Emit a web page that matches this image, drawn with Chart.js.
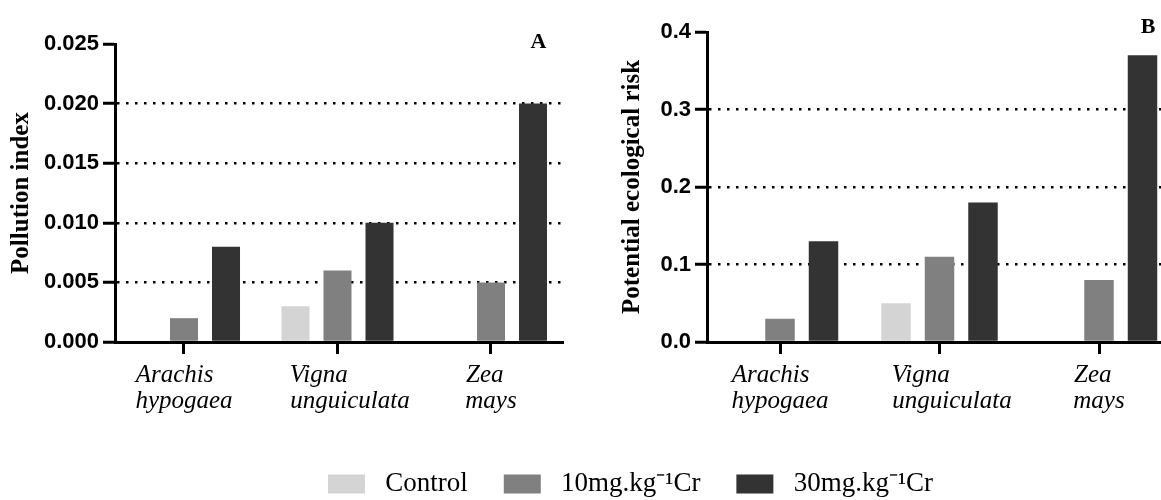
<!DOCTYPE html>
<html>
<head>
<meta charset="utf-8">
<script src="https://cdn.jsdelivr.net/npm/chart.js@4.4.0/dist/chart.umd.min.js"></script>
<style>
  html, body { margin: 0; padding: 0; background: #fff; overflow: hidden; }
  #wrap { position: relative; width: 1161px; height: 500px; overflow: hidden; }
  #chartA { position: absolute; left: 0; top: 0; }
  #chartB { position: absolute; left: 580px; top: 0; }
</style>
</head>
<body>
<div id="wrap">
  <canvas id="chartA" width="1261" height="500"></canvas>
  <canvas id="chartB" width="620" height="500"></canvas>
</div>
<script>
// data
const categories = [['Arachis', 'hypogaea'], ['Vigna', 'unguiculata'], ['Zea', 'mays']];
const seriesNames = ['Control', '10mg.kg\u207B\u00B9Cr', '30mg.kg\u207B\u00B9Cr'];
const seriesColors = ['#d4d4d4', '#808080', '#333333'];

const pollutionControl = [0, 0.003, 0];
const pollution10 = [0.002, 0.006, 0.005];
const pollution30 = [0.008, 0.010, 0.020];
const pollutionTicks = [0, 0.005, 0.010, 0.015, 0.020, 0.025];

const riskControl = [0, 0.05, 0];
const risk10 = [0.03, 0.11, 0.08];
const risk30 = [0.13, 0.18, 0.37];
const riskTicks = [0, 0.1, 0.2, 0.3, 0.4];

// label lines are left aligned in the figure, Vigna is nudged right a bit
const labelLead = [0, 4, 0];
const xFont = 'italic 25px "Liberation Serif"';

const measureCtx = document.createElement('canvas').getContext('2d');
function padLines(lines, lead) {
  measureCtx.font = xFont;
  const w = s => measureCtx.measureText(s).width;
  const widest = Math.max(...lines.map(w));
  const sp = w(' ');
  return lines.map(line => {
    let trail = 0;
    while (w(line) + (trail + 1) * sp <= widest + sp / 2) trail++;
    return ' '.repeat(lead) + line + ' '.repeat(trail);
  });
}

const panelLetter = {
  id: 'panelLetter',
  afterDraw(chart, args, opts) {
    const {ctx, chartArea} = chart;
    ctx.save();
    ctx.font = 'bold 22px "Liberation Serif"';
    ctx.fillStyle = '#000';
    ctx.textAlign = 'center';
    ctx.textBaseline = 'alphabetic';
    ctx.fillText(opts.text, chartArea.right + opts.dx, chartArea.top + opts.dy);
    ctx.restore();
  }
};

function datasets(a, b, c, barPct, catPct) {
  return [a, b, c].map((d, i) => ({
    label: seriesNames[i],
    data: d.map((v, k) => ({x: k, y: v})),
    backgroundColor: seriesColors[i],
    borderWidth: 0,
    barPercentage: barPct,
    categoryPercentage: catPct,
    yAxisID: 'y'
  }));
}

function yScale(ticks, decimals, title, width, titlePad) {
  const lo = ticks[0], hi = ticks[ticks.length - 1];
  return {
    min: lo,
    max: hi,
    afterFit: s => { s.width = width; },
    afterBuildTicks: s => { s.ticks = ticks.map(v => ({value: v})); },
    ticks: {
      callback: v => v.toFixed(decimals),
      font: {family: 'Liberation Sans', size: 22, weight: 'bold'},
      color: '#000',
      padding: 4
    },
    grid: {
      color: c => (c.tick && c.tick.value > lo + 1e-9 && c.tick.value < hi - 1e-9) ? '#000' : 'rgba(0,0,0,0)',
      lineWidth: 2.5,
      tickColor: '#000',
      tickWidth: 3,
      tickLength: 12
    },
    border: {color: '#000', width: 3, dash: [2.5, 6.5]},
    title: {
      display: true,
      text: title,
      color: '#000',
      font: {family: 'Liberation Serif', size: 25, weight: 'bold', lineHeight: 1.2},
      padding: {top: titlePad, bottom: 0}
    }
  };
}

// categories sit on a linear axis so the group centres can match the figure
function xScale(height, lo, hi) {
  return {
    type: 'linear',
    min: lo,
    max: hi,
    offset: false,
    afterFit: s => { s.height = height; },
    afterBuildTicks: s => { s.ticks = categories.map((c, i) => ({value: i})); },
    grid: {offset: false, drawOnChartArea: false, tickLength: 12, tickWidth: 3, tickColor: '#000', color: '#000'},
    border: {color: '#000', width: 3},
    ticks: {
      callback: v => padLines(categories[v], labelLead[v]),
      font: {family: 'Liberation Serif', size: 25, style: 'italic', lineHeight: '26px'},
      color: '#000',
      padding: 8.5,
      maxRotation: 0,
      autoSkip: false
    }
  };
}

new Chart(document.getElementById('chartA'), {
  type: 'bar',
  data: {datasets: datasets(pollutionControl, pollution10, pollution30, 0.667, 0.821)},
  options: {
    responsive: false,
    animation: false,
    devicePixelRatio: 1,
    layout: {padding: {top: 44, bottom: -7.5, left: 0, right: 0}},
    scales: {
      x: xScale(92.5, -0.4495, 2.4691),
      y: yScale(pollutionTicks, 3, 'Pollution index', 115, 7),
      pad: {
        type: 'linear', position: 'right', display: true,
        afterFit: s => { s.width = 1261 - 563; },
        grid: {display: false}, ticks: {display: false}, border: {display: false}
      }
    },
    plugins: {
      tooltip: {enabled: false},
      panelLetter: {text: 'A', dx: -24.5, dy: 4},
      legend: {
        display: true,
        position: 'bottom',
        align: 'center',
        labels: {
          boxWidth: 37,
          boxHeight: 19,
          padding: 36,
          color: '#000',
          font: {family: 'Liberation Serif', size: 27},
          generateLabels: chart => Chart.defaults.plugins.legend.labels.generateLabels(chart)
            .map(l => Object.assign(l, {text: ' ' + l.text, lineWidth: 0}))
        }
      }
    }
  },
  plugins: [panelLetter]
});

new Chart(document.getElementById('chartB'), {
  type: 'bar',
  data: {datasets: datasets(riskControl, risk10, risk30, 0.678, 0.818)},
  options: {
    responsive: false,
    animation: false,
    devicePixelRatio: 1,
    layout: {padding: {top: 32, bottom: 58, left: 0, right: 24}},
    scales: {
      x: xScale(100, -0.4577, 2.4827),
      y: yScale(riskTicks, 1, 'Potential ecological risk', 127, 38)
    },
    plugins: {
      tooltip: {enabled: false},
      legend: {display: false},
      panelLetter: {text: 'B', dx: -28, dy: 1}
    }
  },
  plugins: [panelLetter]
});
</script>
</body>
</html>
